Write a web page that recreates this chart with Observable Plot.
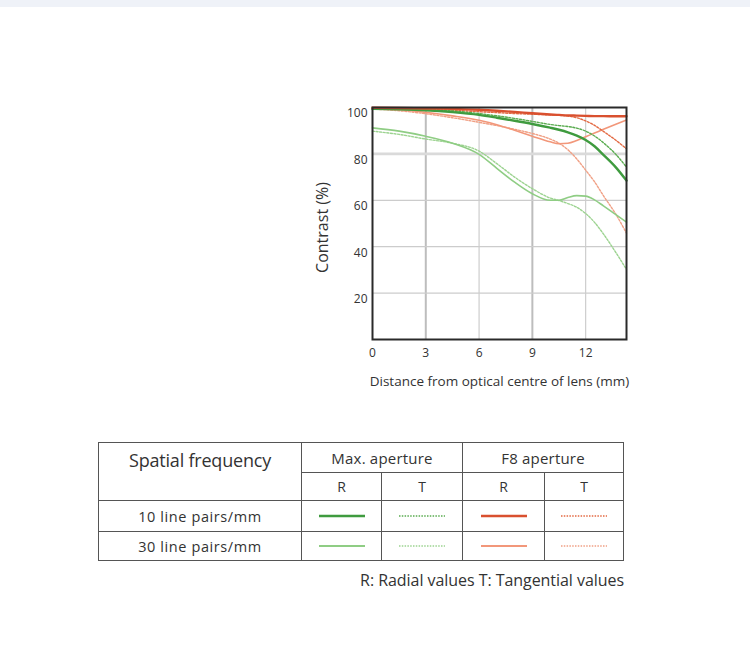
<!DOCTYPE html>
<html><head><meta charset="utf-8">
<script src="https://cdn.jsdelivr.net/npm/d3@7"></script>
<script src="https://cdn.jsdelivr.net/npm/@observablehq/plot@0.6"></script>
<style>
body{margin:0;background:#fff;font-family:"Open Sans",sans-serif;color:#333;}
#topbar{position:absolute;left:0;top:0;width:750px;height:7px;background:#eff2f8;}
#chart{position:absolute;left:0;top:0;}
#legend{position:absolute;left:98px;top:442px;border-collapse:collapse;table-layout:fixed;}
#legend td{border:1.5px solid #555;padding:0;text-align:center;vertical-align:middle;color:#333;}
#caption{position:absolute;right:126px;top:569px;font-size:16px;letter-spacing:-0.05px;color:#333;white-space:nowrap;}
</style></head><body>
<div id="topbar"></div>
<div id="chart"></div>
<table id="legend"></table>
<div id="caption"></div>
<script>
// distance from optical centre (mm)
const xPos = [0, 1.5, 3, 4.5, 6, 7, 8, 9, 10, 10.5, 11, 11.5, 12, 12.5, 13, 13.7, 14.3];
// contrast (%)
const max10R = [99.4, 99.2, 98.8, 98.0, 96.8, 95.6, 94.3, 92.9, 91.3, 90.4, 89.3, 87.9, 86.0, 83.3, 79.6, 74.2, 68.5];
const max10T = [99.6, 99.4, 99.1, 98.5, 97.4, 96.4, 95.3, 94.0, 92.7, 92.2, 91.8, 91.1, 89.8, 87.7, 84.8, 79.8, 74.3];
const f8_10R = [99.9, 99.8, 99.6, 99.4, 99.0, 98.6, 98.1, 97.5, 97.0, 96.8, 96.6, 96.5, 96.4, 96.3, 96.3, 96.2, 96.2];
const f8_10T = [99.7, 99.5, 99.2, 98.8, 98.2, 97.8, 97.4, 97.1, 96.8, 96.6, 96.3, 95.6, 94.2, 92.3, 89.7, 85.9, 82.2];
const max30R = [91.2, 89.8, 87.6, 84.6, 79.8, 73.8, 67.8, 62.8, 60.0, 60.0, 61.2, 62.0, 61.8, 60.2, 57.6, 53.8, 50.6];
const max30T = [89.8, 88.4, 86.4, 84.6, 81.2, 75.8, 70.0, 65.0, 61.0, 59.9, 58.6, 57.0, 54.3, 50.5, 45.5, 37.5, 30.2];
const f8_30R = [99.5, 99.0, 97.9, 96.4, 94.5, 92.6, 90.2, 87.6, 85.2, 84.4, 84.6, 85.8, 87.4, 89.0, 90.6, 92.8, 94.6];
const f8_30T = [99.3, 98.6, 97.3, 95.6, 93.6, 92.2, 90.6, 88.8, 86.4, 84.6, 81.8, 77.8, 73.0, 68.0, 62.0, 54.0, 45.8];

const xTicks = [0, 3, 6, 9, 12];
const yTicks = [20, 40, 60, 80, 100];
const yTickLabels = ["20", "40", "60", "80", "100"];

const frequencies = ["10 line pairs/mm", "30 line pairs/mm"];
const apertures = ["Max. aperture", "F8 aperture"];
const components = ["R", "T"];
const captionText = "R: Radial values T: Tangential values";

const C = {
  max10: "#3f9b3f", max10d: "#5aac50",
  max30: "#8fcd84", max30d: "#9cd390",
  f810: "#d9502f", f810d: "#e36a43",
  f830: "#f2977a", f830d: "#f0a085"
};

const series = [
  {name: "f8_30T", ys: f8_30T, stroke: C.f830d, w: 1.4, dash: "2,1.6"},
  {name: "f8_30R", ys: f8_30R, stroke: C.f830, w: 1.6, dash: null},
  {name: "max30T", ys: max30T, stroke: C.max30d, w: 1.4, dash: "2,1.6"},
  {name: "max30R", ys: max30R, stroke: C.max30, w: 1.6, dash: null},
  {name: "f8_10T", ys: f8_10T, stroke: C.f810d, w: 1.4, dash: "2,1.6"},
  {name: "max10T", ys: max10T, stroke: C.max10d, w: 1.4, dash: "2,1.6"},
  {name: "max10R", ys: max10R, stroke: C.max10, w: 2.4, dash: null},
  {name: "f8_10R", ys: f8_10R, stroke: C.f810, w: 2.4, dash: null}
];

const lineMarks = series.map(s => Plot.line(xPos.map((x, i) => ({x, y: s.ys[i]})), {
  x: "x", y: "y", stroke: s.stroke, strokeWidth: s.w,
  strokeDasharray: s.dash || undefined, curve: "monotone-x"
}));

const chart = Plot.plot({
  width: 750, height: 400,
  marginLeft: 372, marginRight: 124, marginTop: 107, marginBottom: 61,
  style: {fontFamily: "'Open Sans', sans-serif", background: "transparent"},
  x: {domain: [0, 14.3], axis: null},
  y: {domain: [0, 100], axis: null},
  marks: [
    Plot.ruleX(xTicks.filter(t => t > 0), {x: d => d, stroke: d => (d === 3 || d === 9) ? "#bdbdbd" : "#cdcdcd", strokeWidth: d => (d === 3 || d === 9) ? 2 : 1.2}),
    Plot.ruleY(yTicks.filter(t => t < 100), {y: d => d, stroke: d => d === 80 ? "#dadada" : "#cccccc", strokeWidth: d => d === 80 ? 2.6 : 1.3}),
    ...lineMarks,
    Plot.frame({stroke: "#2a2a2a", strokeWidth: 2}),
    Plot.axisY(yTicks, {tickSize: 0, tickPadding: 5, dy: 6, fontSize: 12, label: null, tickFormat: (d, i) => yTickLabels[i], fill: "#333", fontWeight: 500}),
    Plot.axisX(xTicks, {tickSize: 0, tickPadding: 9, fontSize: 12, label: null, fill: "#333", fontWeight: 500}),
    Plot.text(["Contrast (%)"], {frameAnchor: "left", textAnchor: "middle", dx: -50, dy: 4, rotate: -90, fontSize: 16, fill: "#333"}),
    Plot.text(["Distance from optical centre of lens (mm)"], {frameAnchor: "bottom", textAnchor: "middle", lineAnchor: "middle", dy: 42, fontSize: 13.5, fill: "#333", letterSpacing: "-0.55px"})
  ]
});
document.getElementById("chart").appendChild(chart);

// legend table
function sample(color, w, dash) {
  return `<svg width="46" height="6" style="display:block;margin:0 auto"><line x1="0" x2="46" y1="3" y2="3" stroke="${color}" stroke-width="${w}" ${dash ? `stroke-dasharray="${dash}"` : ""}/></svg>`;
}
const colW = [203, 80, 81, 82, 79];
const rowH = [30, 28, 31, 29];
const styles = [
  [[C.max10, 2.4, null], [C.max10d, 1.4, "1.5,1.3"], [C.f810, 2.4, null], [C.f810d, 1.4, "1.5,1.3"]],
  [[C.max30, 2.0, null], [C.max30d, 1.3, "1.5,1.3"], [C.f830, 2.0, null], [C.f830d, 1.3, "1.5,1.3"]]
];
let html = "<colgroup>" + colW.map(w => `<col style="width:${w}px">`).join("") + "</colgroup>";
html += `<tr style="height:${rowH[0]}px"><td rowspan="2" style="vertical-align:top;padding-top:5px;font-size:18px;letter-spacing:-0.2px">Spatial frequency</td>` +
  apertures.map(a => `<td colspan="2" style="font-size:15px;letter-spacing:0.2px">${a}</td>`).join("") + "</tr>";
html += `<tr style="height:${rowH[1]}px">` + apertures.map(() => components.map(c => `<td style="font-size:14px">${c}</td>`).join("")).join("") + "</tr>";
frequencies.forEach((f, r) => {
  html += `<tr style="height:${rowH[r + 2]}px"><td style="font-size:14.5px;letter-spacing:0.6px">${f}</td>` +
    styles[r].map(s => `<td>${sample(s[0], s[1], s[2])}</td>`).join("") + "</tr>";
});
document.getElementById("legend").innerHTML = html;
document.getElementById("caption").textContent = captionText;
</script>
</body></html>
